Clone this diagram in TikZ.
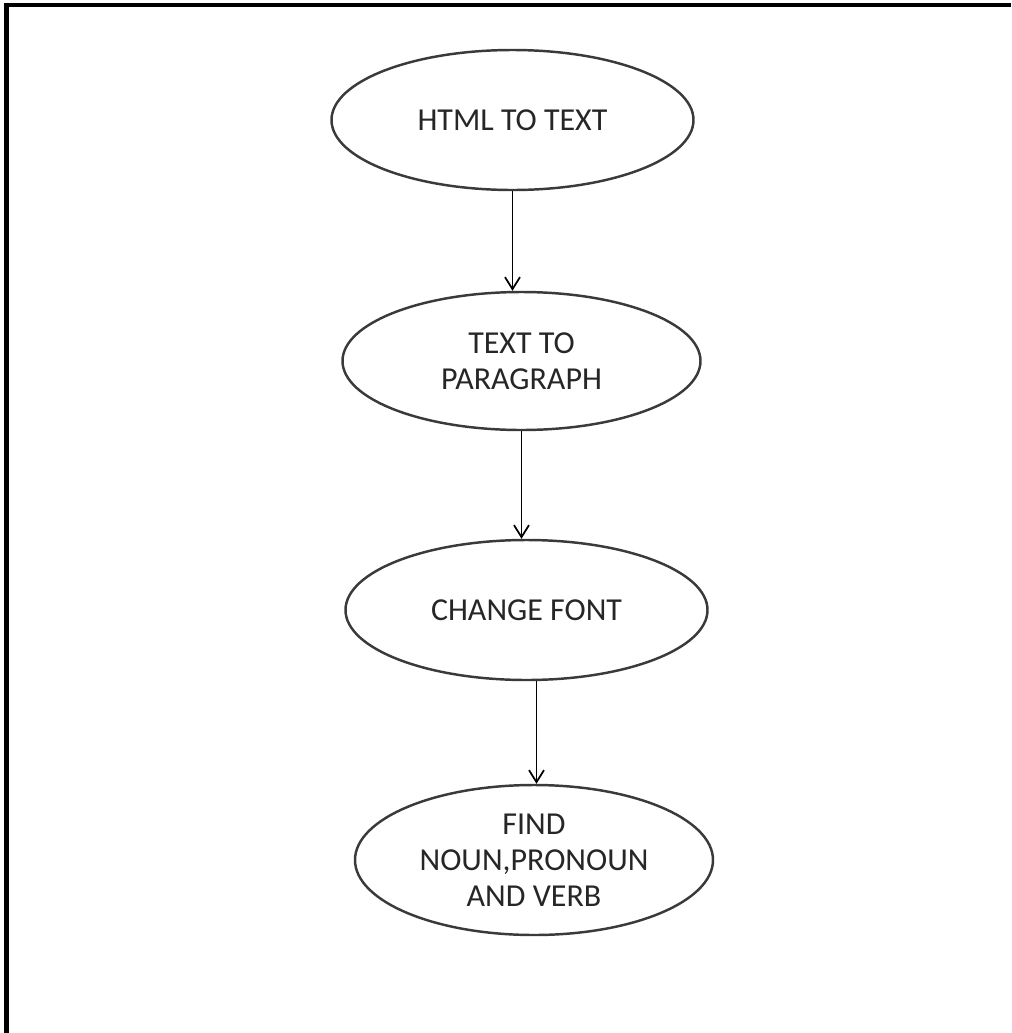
\documentclass[tikz,border=0pt]{standalone}
\usepackage{fontspec}
\setmainfont{Carlito}
\usetikzlibrary{shapes.geometric,arrows.meta}
\definecolor{edgegray}{HTML}{3A3A3A}
\tikzset{
  stepnode/.style = {ellipse, draw = edgegray, line width = 1.4pt, align = center,
                     font = \fontsize{18.2}{20.5}\selectfont, text = black!85},
  flow/.style = {-{Straight Barb[length = 2.4mm, width = 3mm]}, line width = 1pt}
}
\begin{document}
\begin{tikzpicture}
    \useasboundingbox (0,0) rectangle (20.22,-20.66);
    \draw [line width = 2.4pt] (.13,-20.66)--(.13,-.1)--(20.22,-.1);
    \node [stepnode, minimum width = 7.24cm, minimum height = 2.8cm] (html) at (10.25,-2.4) {HTML TO TEXT};
    \node [stepnode, minimum width = 7.16cm, minimum height = 2.76cm] (para) at (10.43,-7.22) {TEXT TO\\PARAGRAPH};
    \node [stepnode, minimum width = 7.24cm, minimum height = 2.8cm] (font) at (10.53,-12.2) {CHANGE FONT};
    \node [stepnode, minimum width = 7.16cm, minimum height = 3cm] (find) at (10.68,-17.2) {FIND\\NOUN,PRONOUN\\AND VERB};
    \draw [flow] (html.south)--(html.south |- para.north);
    \draw [flow] (para.south)--(para.south |- font.north);
    \coordinate (fontout) at ([xshift = .2cm]font.south);
    \draw [flow] (fontout)--(fontout |- find.north);
\end{tikzpicture}
\end{document}
